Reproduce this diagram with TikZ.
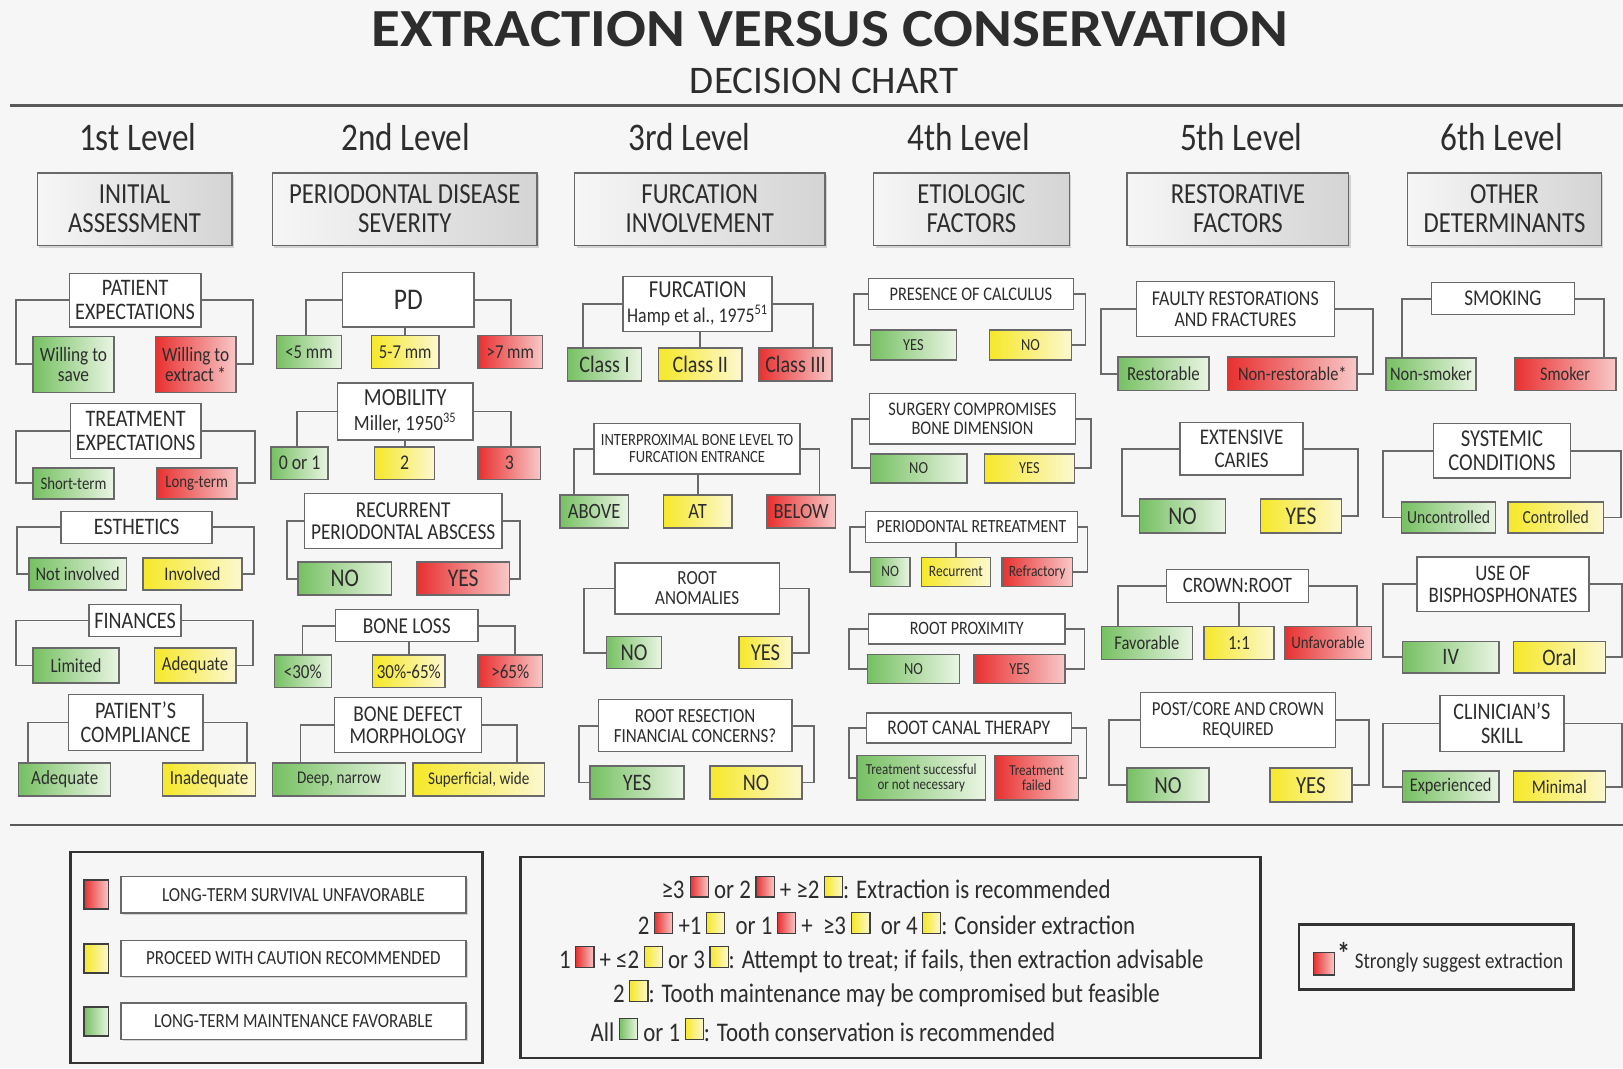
\documentclass[tikz,border=0pt]{standalone}
\usepackage{fontspec}
\setmainfont[FakeStretch=0.85]{Carlito}
\newfontfamily\titlefont[FakeStretch=1.1]{Carlito}
\newfontfamily\subfont{Carlito}
\usetikzlibrary{shadows}

\definecolor{bg}{RGB}{246,246,246}
\definecolor{txt}{RGB}{45,45,45}
\definecolor{edge}{RGB}{105,105,105}
\definecolor{grnA}{RGB}{118,192,98}
\definecolor{grnB}{RGB}{234,245,228}
\definecolor{yelA}{RGB}{246,232,40}
\definecolor{yelB}{RGB}{252,248,208}
\definecolor{redA}{RGB}{232,48,48}
\definecolor{redB}{RGB}{248,200,200}
\definecolor{hdA}{RGB}{246,246,246}
\definecolor{hdB}{RGB}{212,212,212}

\newcommand{\fsz}[1]{\fontsize{#1}{#1}\selectfont}
\newcommand{\sq}[1]{\tikz[baseline=-0.8pt]\draw[draw=edge!60!black, line width=.6pt, left color=#1A, right color=#1B] (0,0) rectangle (10pt,11.5pt);}

\tikzset{
  cbox/.style={draw=edge, line width=0.8pt, inner sep=0pt, align=center, text=txt},
  sz/.style 2 args={minimum width=#1*0.02cm, minimum height=#2*0.02cm},
  qbox/.style={cbox, fill=white},
  gbox/.style={cbox, left color=grnA, right color=grnB},
  ybox/.style={cbox, left color=yelA, right color=yelB},
  rbox/.style={cbox, left color=redA, right color=redB},
  hbox/.style={cbox, left color=hdA, right color=hdB, font=\fsz{16},
    drop shadow={shadow xshift=1.2pt, shadow yshift=-1.2pt, opacity=0.3}},
  lvl/.style={text=txt, font=\fsz{21.5}, anchor=base},
  conn/.style={draw=edge, line width=1pt},
  keybox/.style={draw=black!80, line width=1.4pt},
  lab/.style={cbox, fill=white, font=\fsz{11},
    drop shadow={shadow xshift=1pt, shadow yshift=-1pt, opacity=0.3}},
}

\begin{document}
\begin{tikzpicture}[x=0.02cm, y=-0.02cm]
  \path[use as bounding box, fill=bg] (0,0) rectangle (1568,1032);

  \node[font=\titlefont\bfseries\fsz{29.5}, text=txt] (title) at (801.5,28) {EXTRACTION VERSUS CONSERVATION};
  \node[font=\subfont\fsz{21.5}, text=txt] (subtitle) at (796.5,78) {DECISION CHART};
  \draw[black!65, line width=1.6pt] (10,102) -- (1568,102);
  \draw[black!65, line width=1.6pt] (10,797) -- (1568,797);

  % levels
  \node[lvl] (l1) at (133,145) {1st Level};
  \node[lvl] (l2) at (392,145) {2nd Level};
  \node[lvl] (l3) at (666,145) {3rd Level};
  \node[lvl] (l4) at (936,145) {4th Level};
  \node[lvl] (l5) at (1199,145) {5th Level};
  \node[lvl] (l6) at (1451,145) {6th Level};

  \node[hbox, sz={188}{70}] (hd1) at (130,202) {INITIAL\\ASSESSMENT};
  \node[hbox, sz={256}{70}] (hd2) at (391,202) {PERIODONTAL DISEASE\\SEVERITY};
  \node[hbox, sz={242}{70}] (hd3) at (676,202) {FURCATION\\INVOLVEMENT};
  \node[hbox, sz={189}{70}] (hd4) at (938.5,202) {ETIOLOGIC\\FACTORS};
  \node[hbox, sz={214}{70}] (hd5) at (1196,202) {RESTORATIVE\\FACTORS};
  \node[hbox, sz={187}{70}] (hd6) at (1453.5,202) {OTHER\\DETERMINANTS};

  % 1st level
  \node[qbox, sz={127}{52}, font=\fsz{13}] (pe) at (130.5,290) {PATIENT\\EXPECTATIONS};
  \node[gbox, sz={78}{54}, font=\fsz{11.2}] (ws) at (71,352) {Willing to\\save};
  \node[rbox, sz={78}{54}, font=\fsz{11.2}] (we) at (189,352) {Willing to\\extract\,*};
  \draw[conn] (pe.west) -- ++(-51,0) |- (ws.west);
  \draw[conn] (pe.east) -- ++(50,0) |- (we.east);

  \node[qbox, sz={126}{53}, font=\fsz{13}] (te) at (131,416.5) {TREATMENT\\EXPECTATIONS};
  \node[gbox, sz={78}{30}, font=\fsz{9.6}] (st) at (71,467) {Short-term};
  \node[rbox, sz={78}{30}, font=\fsz{9.6}] (lt) at (190,467) {Long-term};
  \draw[conn] (te.west) -- ++(-52,0) |- (st.west);
  \draw[conn] (te.east) -- ++(52,0) |- (lt.east);

  \node[qbox, sz={146}{31}, font=\fsz{13}] (es) at (132,509.5) {ESTHETICS};
  \node[gbox, sz={94}{31}, font=\fsz{10.6}] (ni) at (75,554.5) {Not involved};
  \node[ybox, sz={96}{31}, font=\fsz{10.6}] (iv) at (186,554.5) {Involved};
  \draw[conn] (es.west) -- ++(-42,0) |- (ni.west);
  \draw[conn] (es.east) -- ++(40,0) |- (iv.east);

  \node[qbox, sz={89}{31}, font=\fsz{13}] (fi) at (130.5,599.5) {FINANCES};
  \node[gbox, sz={83}{34}, font=\fsz{10.9}] (li) at (73.5,643) {Limited};
  \node[ybox, sz={79}{34}, font=\fsz{10.9}] (ad) at (188.5,643) {Adequate};
  \draw[conn] (fi.west) -- ++(-70,0) |- (li.west);
  \draw[conn] (fi.east) -- ++(69,0) |- (ad.east);

  \node[qbox, sz={130}{54}, font=\fsz{13}] (pc) at (131,698) {PATIENT'S\\COMPLIANCE};
  \node[gbox, sz={89}{32}, font=\fsz{11}] (ca) at (62.5,753) {Adequate};
  \node[ybox, sz={90}{32}, font=\fsz{11}] (ci) at (202,753) {Inadequate};
  \draw[conn] (pc.west) -- ++(-38,0) coordinate (pcl) -- (pcl |- ca.north);
  \draw[conn] (pc.east) -- ++(42,0) coordinate (pcr) -- (pcr |- ci.north);

  % 2nd level
  \node[qbox, sz={127}{53}, font=\fsz{16.5}] (pd) at (394.5,289.5) {PD};
  \node[gbox, sz={63}{32}, font=\fsz{10.8}] (p1) at (298.5,340) {<5 mm};
  \node[ybox, sz={65}{32}, font=\fsz{10.8}] (p2) at (391.5,340) {5-7 mm};
  \node[rbox, sz={62}{32}, font=\fsz{10.8}] (p3) at (493,340) {>7 mm};
  \draw[conn] (pd.west) -- ++(-35,0) coordinate (pdl) -- (pdl |- p1.north);
  \draw[conn] (p2.north |- pd.south) -- (p2.north);
  \draw[conn] (pd.east) -- ++(35,0) coordinate (pdr) -- (pdr |- p3.north);

  \node[qbox, sz={131}{55}, font=\fsz{13.5}] (mo) at (391.5,397.5) {MOBILITY\\{\fsz{12}Miller, 1950\textsuperscript{35}}};
  \node[gbox, sz={55}{31}, font=\fsz{11.5}] (m1) at (289.5,447.5) {0 or 1};
  \node[ybox, sz={58}{31}, font=\fsz{11.5}] (m2) at (391,447.5) {2};
  \node[rbox, sz={60}{31}, font=\fsz{11.5}] (m3) at (492,447.5) {3};
  \draw[conn] (mo.west) -- ++(-38,0) coordinate (mol) -- (mol |- m1.north);
  \draw[conn] (m2.north |- mo.south) -- (m2.north);
  \draw[conn] (mo.east) -- ++(36,0) coordinate (mor) -- (mor |- m3.north);

  \node[qbox, sz={191}{53}, font=\fsz{12.5}] (ra) at (389.5,503.5) {RECURRENT\\PERIODONTAL ABSCESS};
  \node[gbox, sz={90}{32}, font=\fsz{14}] (rn) at (333,559) {NO};
  \node[rbox, sz={89}{32}, font=\fsz{14}] (ry) at (447.5,559) {YES};
  \draw[conn] (ra.west) -- ++(-16,0) |- (rn.west);
  \draw[conn] (ra.east) -- ++(17,0) |- (ry.east);

  \node[qbox, sz={138}{31}, font=\fsz{12.5}] (bl) at (393,604.5) {BONE LOSS};
  \node[gbox, sz={55}{31}, font=\fsz{11}] (b1) at (292.5,648.5) {<30\%};
  \node[ybox, sz={70}{31}, font=\fsz{11}] (b2) at (395,648.5) {30\%-65\%};
  \node[rbox, sz={62}{31}, font=\fsz{11}] (b3) at (493,648.5) {>65\%};
  \draw[conn] (bl.west) -- ++(-31,0) coordinate (bll) -- (bll |- b1.north);
  \draw[conn] (b2.north |- bl.south) -- (b2.north);
  \draw[conn] (bl.east) -- ++(35,0) coordinate (blr) -- (blr |- b3.north);

  \node[qbox, sz={142}{53}, font=\fsz{12.5}] (bd) at (394,700.5) {BONE DEFECT\\MORPHOLOGY};
  \node[gbox, sz={129}{32}, font=\fsz{9.8}] (d1) at (327.5,753) {Deep, narrow};
  \node[ybox, sz={127}{32}, font=\fsz{9.8}] (d2) at (462.5,753) {Superficial, wide};
  \draw[conn] (bd.west) -- ++(-32,0) coordinate (bdl) -- (bdl |- d1.north);
  \draw[conn] (bd.east) -- ++(34,0) coordinate (bdr) -- (bdr |- d2.north);

  % 3rd level
  \node[qbox, sz={144}{53}, font=\fsz{13.4}] (fu) at (674,293.5) {FURCATION\\{\fsz{11.5}Hamp et al., 1975\textsuperscript{51}}};
  \node[gbox, sz={72}{32}, font=\fsz{13}] (f1) at (584,352) {Class I};
  \node[ybox, sz={81}{32}, font=\fsz{13}] (f2) at (676.5,352) {Class II};
  \node[rbox, sz={71}{32}, font=\fsz{13}] (f3) at (768.5,352) {Class III};
  \draw[conn] (fu.west) -- ++(-38,0) coordinate (ful) -- (ful |- f1.north);
  \draw[conn] (f2.north |- fu.south) -- (f2.north);
  \draw[conn] (fu.east) -- ++(39,0) coordinate (fur) -- (fur |- f3.north);

  \node[qbox, sz={199}{49}, font=\fsz{9.4}] (ib) at (673.5,433.5) {INTERPROXIMAL BONE LEVEL TO\\FURCATION ENTRANCE};
  \node[gbox, sz={66}{32}, font=\fsz{12}] (i1) at (574,494) {ABOVE};
  \node[ybox, sz={66}{32}, font=\fsz{12}] (i2) at (674,494) {AT};
  \node[rbox, sz={66}{32}, font=\fsz{12}] (i3) at (774,494) {BELOW};
  \draw[conn] (ib.west) -- ++(-19,0) coordinate (ibl) -- (ibl |- i1.north);
  \draw[conn] (i2.north |- ib.south) -- (i2.north);
  \draw[conn] (ib.east) -- ++(18,0) coordinate (ibr) -- (ibr |- i3.north);

  \node[qbox, sz={159}{49}, font=\fsz{11}] (an) at (673.5,568.5) {ROOT\\ANOMALIES};
  \node[gbox, sz={53}{31}, font=\fsz{13.3}] (a1) at (612.5,630.5) {NO};
  \node[ybox, sz={51}{31}, font=\fsz{13.3}] (a2) at (739.5,630.5) {YES};
  \draw[conn] (an.west) -- ++(-29,0) |- (a1.west);
  \draw[conn] (an.east) -- ++(28,0) |- (a2.east);

  \node[qbox, sz={187}{50}, font=\fsz{11}] (rr) at (671.5,701) {ROOT RESECTION\\FINANCIAL CONCERNS?};
  \node[gbox, sz={91}{32}, font=\fsz{13}] (r1) at (615.5,756) {YES};
  \node[ybox, sz={89}{32}, font=\fsz{13}] (r2) at (730.5,756) {NO};
  \draw[conn] (rr.west) -- ++(-18,0) |- (r1.west);
  \draw[conn] (rr.east) -- ++(21,0) |- (r2.east);

  % 4th level
  \node[qbox, sz={198}{30}, font=\fsz{10.6}] (cl) at (938,284) {PRESENCE OF CALCULUS};
  \node[gbox, sz={83}{29}, font=\fsz{9.3}] (c1) at (882.5,333.5) {YES};
  \node[ybox, sz={79}{29}, font=\fsz{9.3}] (c2) at (995.5,333.5) {NO};
  \draw[conn] (cl.west) -- ++(-13,0) |- (c1.west);
  \draw[conn] (cl.east) -- ++(11,0) |- (c2.east);

  \node[qbox, sz={199}{49}, font=\fsz{10.6}] (sg) at (939.5,404.5) {SURGERY COMPROMISES\\BONE DIMENSION};
  \node[gbox, sz={93}{28}, font=\fsz{9.3}] (s1) at (887.5,452.5) {NO};
  \node[ybox, sz={87}{28}, font=\fsz{9.3}] (s2) at (994.5,452.5) {YES};
  \draw[conn] (sg.west) -- ++(-16,0) |- (s1.west);
  \draw[conn] (sg.east) -- ++(14,0) |- (s2.east);

  \node[qbox, sz={205}{30}, font=\fsz{10.2}] (pr) at (938.5,509) {PERIODONTAL RETREATMENT};
  \node[gbox, sz={38}{28}, font=\fsz{8.7}] (q1) at (860,552.5) {NO};
  \node[ybox, sz={67}{28}, font=\fsz{8.7}] (q2) at (923.5,552.5) {Recurrent};
  \node[rbox, sz={68}{28}, font=\fsz{8.7}] (q3) at (1002,552.5) {Refractory};
  \draw[conn] (pr.west) -- ++(-14,0) |- (q1.west);
  \draw[conn] (q2.north |- pr.south) -- (q2.north);
  \draw[conn] (pr.east) -- ++(9,0) |- (q3.east);

  \node[qbox, sz={190}{29}, font=\fsz{10.4}] (rp) at (934,607.5) {ROOT PROXIMITY};
  \node[gbox, sz={89}{28}, font=\fsz{9.3}] (x1) at (882.5,646.5) {NO};
  \node[rbox, sz={88}{28}, font=\fsz{9.3}] (x2) at (985,646.5) {YES};
  \draw[conn] (rp.west) -- ++(-18,0) |- (x1.west);
  \draw[conn] (rp.east) -- ++(18,0) |- (x2.east);

  \node[qbox, sz={198}{29}, font=\fsz{11.4}] (rc) at (936,703.5) {ROOT CANAL THERAPY};
  \node[gbox, sz={124}{43}, font=\fsz{8.4}] (t1) at (890,751.5) {Treatment successful\\or not necessary};
  \node[rbox, sz={81}{43}, font=\fsz{8.4}] (t2) at (1001.5,751.5) {Treatment\\failed};
  \draw[conn] (rc.west) -- ++(-16,0) |- (t1.west);
  \draw[conn] (rc.east) -- ++(14,0) |- (t2.east);

  % 5th level
  \node[qbox, sz={191}{53}, font=\fsz{11.6}] (fr) at (1193.5,298.5) {FAULTY RESTORATIONS\\AND FRACTURES};
  \node[gbox, sz={88}{32}, font=\fsz{10.9}] (g1) at (1124,361) {Restorable};
  \node[rbox, sz={125}{32}, font=\fsz{10.6}] (g2) at (1248.5,361) {Non-restorable*};
  \draw[conn] (fr.west) -- ++(-34,0) |- (g1.west);
  \draw[conn] (fr.east) -- ++(37,0) |- (g2.east);

  \node[qbox, sz={119}{51}, font=\fsz{12.3}] (ec) at (1199.5,433.5) {EXTENSIVE\\CARIES};
  \node[gbox, sz={83}{33}, font=\fsz{14}] (e1) at (1142.5,498.5) {NO};
  \node[ybox, sz={78}{33}, font=\fsz{14}] (e2) at (1257,498.5) {YES};
  \draw[conn] (ec.west) -- ++(-55,0) |- (e1.west);
  \draw[conn] (ec.east) -- ++(52,0) |- (e2.east);

  \node[qbox, sz={137}{32}, font=\fsz{12.1}] (cr) at (1195.5,566) {CROWN:ROOT};
  \node[gbox, sz={88}{32}, font=\fsz{10.7}] (k1) at (1108,621) {Favorable};
  \node[ybox, sz={68}{32}, font=\fsz{11}] (k2) at (1197,621) {1:1};
  \node[rbox, sz={84}{32}, font=\fsz{9.6}] (k3) at (1283,621) {Unfavorable};
  \draw[conn] (cr.west) -- ++(-46,0) coordinate (crl) -- (crl |- k1.north);
  \draw[conn] (k2.north |- cr.south) -- (k2.north);
  \draw[conn] (cr.east) -- ++(46,0) coordinate (crr) -- (crr |- k3.north);

  \node[qbox, sz={188}{53}, font=\fsz{10.9}] (po) at (1196,695.5) {POST/CORE AND CROWN\\REQUIRED};
  \node[gbox, sz={79}{33}, font=\fsz{13.5}] (o1) at (1128.5,758.5) {NO};
  \node[ybox, sz={79}{33}, font=\fsz{13.5}] (o2) at (1266.5,758.5) {YES};
  \draw[conn] (po.west) -- ++(-30,0) |- (o1.west);
  \draw[conn] (po.east) -- ++(32,0) |- (o2.east);

  % 6th level
  \node[qbox, sz={138}{31}, font=\fsz{12.4}] (sm) at (1452,288.5) {SMOKING};
  \node[gbox, sz={87}{31}, font=\fsz{10.6}] (n1) at (1382.5,361.5) {Non-smoker};
  \node[rbox, sz={98}{31}, font=\fsz{10.6}] (n2) at (1512,361.5) {Smoker};
  \draw[conn] (sm.west) -- ++(-28,0) coordinate (sml) -- (sml |- n1.north);
  \draw[conn] (sm.east) -- ++(28,0) coordinate (smr) -- (smr |- n2.north);

  \node[qbox, sz={132}{53}, font=\fsz{13.3}] (sy) at (1451,435.5) {SYSTEMIC\\CONDITIONS};
  \node[gbox, sz={91}{30}, font=\fsz{10.1}] (y1) at (1399.5,500) {Uncontrolled};
  \node[ybox, sz={92}{30}, font=\fsz{10.1}] (y2) at (1503,500) {Controlled};
  \draw[conn] (sy.west) -- ++(-48,0) |- (y1.west);
  \draw[conn] (sy.east) -- ++(48,0) |- (y2.east);

  \node[qbox, sz={166}{53}, font=\fsz{12.2}] (bp) at (1452,564.5) {USE OF\\BISPHOSPHONATES};
  \node[gbox, sz={93}{30}, font=\fsz{13}] (v1) at (1401.5,635) {IV};
  \node[ybox, sz={89}{30}, font=\fsz{13}] (v2) at (1506.5,635) {Oral};
  \draw[conn] (bp.west) -- ++(-32,0) |- (v1.west);
  \draw[conn] (bp.east) -- ++(31,0) |- (v2.east);

  \node[qbox, sz={120}{54}, font=\fsz{13}] (cs) at (1451,699) {CLINICIAN'S\\SKILL};
  \node[gbox, sz={93}{30}, font=\fsz{10.6}] (w1) at (1401.5,760) {Experienced};
  \node[ybox, sz={89}{30}, font=\fsz{10.6}] (w2) at (1506.5,760) {Minimal};
  \draw[conn] (cs.west) -- ++(-54,0) |- (w1.west);
  \draw[conn] (cs.east) -- ++(55,0) |- (w2.east);

  % legend
  \node[keybox, sz={398}{204}] (key1) at (267,925) {};
  \node[rbox, draw=edge!60!black, sz={24}{28}] (sq1) at (93,864) {};
  \node[ybox, draw=edge!60!black, sz={24}{28}] (sq2) at (93,926) {};
  \node[gbox, draw=edge!60!black, sz={24}{28}] (sq3) at (93,987) {};
  \node[lab, sz={333}{35}] (lg1) at (283.5,864.5) {LONG-TERM SURVIVAL UNFAVORABLE};
  \node[lab, sz={333}{35}] (lg2) at (283.5,926) {PROCEED WITH CAUTION RECOMMENDED};
  \node[lab, sz={333}{35}] (lg3) at (283.5,986.5) {LONG-TERM MAINTENANCE FAVORABLE};

  \node[keybox, sz={715}{194}] (key2) at (860.5,925) {};
  \node[font=\fsz{14.8}, text=txt] (ln1) at (856,857) {≥3 \sq{red} or 2\,\sq{red} + ≥2\,\sq{yel}: Extraction is recommended};
  \node[font=\fsz{14.8}, text=txt] (ln2) at (856.5,892) {2\,\sq{red} +1\,\sq{yel} \ or 1\,\sq{red} + \ ≥3 \sq{yel} \ or 4\,\sq{yel}: Consider extraction};
  \node[font=\fsz{14.8}, text=txt] (ln3) at (851.5,927) {1\,\sq{red} + ≤2\,\sq{yel} or 3\,\sq{yel}: Attempt to treat; if fails, then extraction advisable};
  \node[font=\fsz{14.8}, text=txt] (ln4) at (856.5,960) {2\,\sq{yel}: Tooth maintenance may be compromised but feasible};
  \node[font=\fsz{14.8}, text=txt] (ln5) at (795,995) {All\,\sq{grn} or 1\,\sq{yel}: Tooth conservation is recommended};

  \node[keybox, sz={265}{63}] (key3) at (1387.5,924.5) {};
  \node[rbox, draw=edge!60!black, sz={20}{22}] (sq4) at (1279,931) {};
  \node[font=\bfseries\fsz{17}, text=txt, inner sep=0pt, anchor=north west] (ast) at ([xshift=1pt, yshift=5pt]sq4.north east) {*};
  \node[font=\fsz{12.3}, text=txt] (strong) at (1409.5,930) {Strongly suggest extraction};
\end{tikzpicture}
\end{document}
